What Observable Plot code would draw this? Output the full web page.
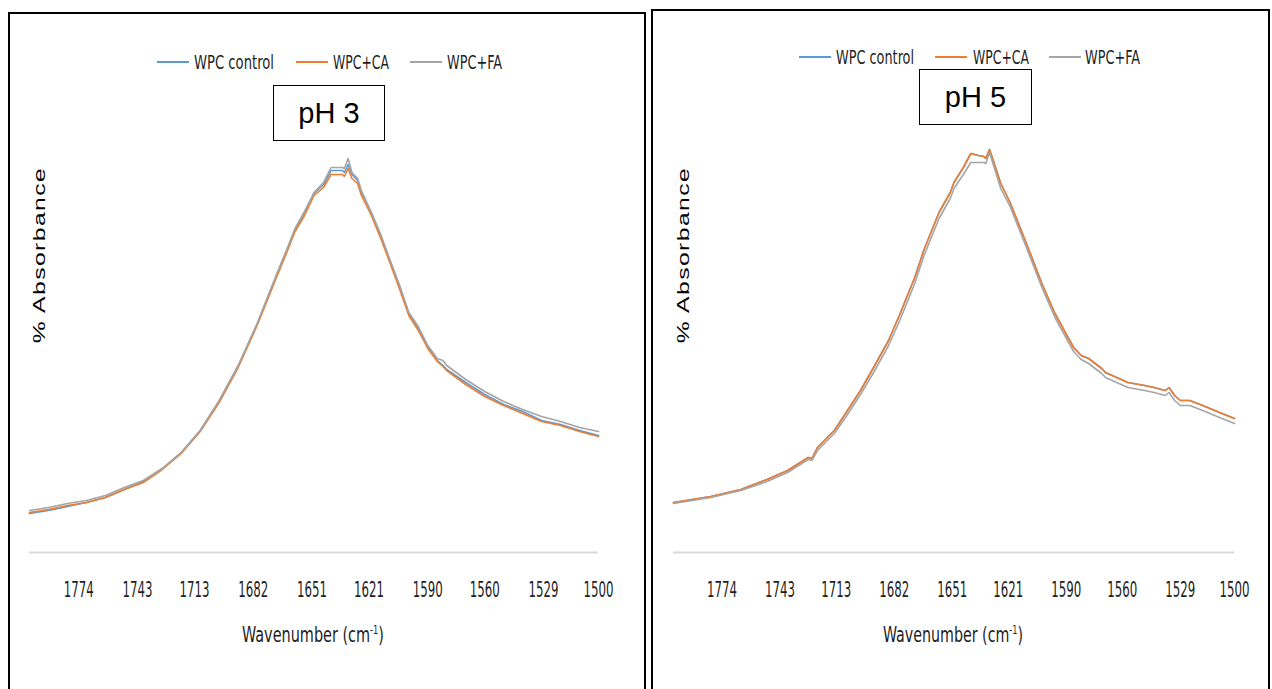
<!DOCTYPE html>
<html>
<head>
<meta charset="utf-8">
<script src="https://cdn.jsdelivr.net/npm/d3@7"></script>
<script src="https://cdn.jsdelivr.net/npm/@observablehq/plot@0.6"></script>
<style>
  body { margin: 0; background: #fff; }
  #page { position: relative; width: 1272px; height: 689px; overflow: hidden; background: #fff; }
  .panel { position: absolute; border: 2px solid #000; box-sizing: border-box; }
  .plotsvg { position: absolute; }
  .lg-line { position: absolute; height: 0; width: 32px; border-top: 2px solid; }
  .lg-text { position: absolute; font-family: "DejaVu Sans Condensed", "Liberation Sans Narrow", sans-serif; font-size: 19px; color: #1f1f1f;
             white-space: nowrap; transform-origin: 0 50%; }
  .phbox { position: absolute; border: 1.5px solid #000; box-sizing: border-box; background: #fff;
           font-family: Arial, "Liberation Sans", sans-serif; font-size: 29px; color: #000;
           display: flex; align-items: center; justify-content: center; }
  .ylab { position: absolute; font-family: Arial, "Liberation Sans", sans-serif; font-size: 17px; letter-spacing: 1px; color: #000;
          white-space: nowrap; transform: translate(-50%, -50%) rotate(-90deg) scaleX(1.45); }
  .xlab { position: absolute; font-family: "DejaVu Sans Condensed", "Liberation Sans Narrow", sans-serif; font-size: 21px; color: #1f1f1f;
          white-space: nowrap; transform-origin: 50% 50%; }
  .xlab sup { font-size: 12px; vertical-align: 8px; }
</style>
</head>
<body>
<div id="page"></div>
<script>
// Series names and colours (Excel default palette)
const seriesNames = ["WPC control", "WPC+CA", "WPC+FA"];
const seriesColors = ["#5b9bd5", "#ed7d31", "#a5a5a5"];

// Category labels shown under the wavenumber axis
const tickWavenumbers = [1774, 1743, 1713, 1682, 1651, 1621, 1590, 1560, 1529, 1500];

// pH 3 spectra (amide I region)
const wnPH3 = [1800,1790,1780,1770,1760,1750,1740,1730,1720,1710,1700,1690,1680,1670,1665,1660,1655,1650,1645,1641,1635,1634,1632,1630,1627,1625,1620,1615,1610,1605,1600,1595,1590,1585,1582,1580,1570,1560,1550,1540,1530,1520,1510,1500];
const controlPH3 = [0.039,0.042,0.046,0.050,0.055,0.063,0.071,0.084,0.100,0.122,0.151,0.186,0.228,0.276,0.299,0.323,0.340,0.359,0.368,0.382,0.382,0.380,0.388,0.378,0.372,0.360,0.341,0.318,0.292,0.266,0.239,0.224,0.205,0.192,0.187,0.183,0.170,0.158,0.148,0.141,0.132,0.128,0.122,0.117];
const caPH3 = [0.040,0.043,0.047,0.050,0.055,0.063,0.070,0.083,0.099,0.121,0.150,0.185,0.227,0.274,0.297,0.321,0.337,0.357,0.365,0.378,0.378,0.376,0.384,0.374,0.369,0.357,0.338,0.315,0.290,0.264,0.237,0.222,0.204,0.191,0.186,0.182,0.168,0.156,0.147,0.139,0.131,0.127,0.121,0.116];
const faPH3 = [0.042,0.045,0.049,0.052,0.057,0.065,0.072,0.084,0.100,0.122,0.152,0.187,0.229,0.277,0.300,0.324,0.341,0.360,0.370,0.385,0.385,0.384,0.394,0.380,0.374,0.362,0.341,0.319,0.293,0.268,0.240,0.226,0.207,0.194,0.192,0.187,0.173,0.161,0.151,0.143,0.136,0.131,0.125,0.121];

// pH 5 spectra
const wnPH5 = [1800,1780,1764,1750,1739,1728,1726,1723,1714,1708,1700,1693,1685,1679,1671,1666,1658,1652,1650,1645,1641,1637,1634,1633,1631,1629,1625,1620,1610,1603,1596,1589,1586,1582,1578,1571,1569,1557,1548,1543,1537,1535,1532,1529,1524,1517,1508,1500];
const controlPH5 = [0.050,0.056,0.063,0.073,0.082,0.095,0.094,0.105,0.122,0.139,0.162,0.185,0.212,0.238,0.275,0.303,0.340,0.360,0.370,0.385,0.399,0.397,0.396,0.394,0.403,0.392,0.369,0.350,0.303,0.269,0.239,0.215,0.205,0.197,0.194,0.184,0.180,0.170,0.167,0.165,0.162,0.165,0.157,0.152,0.152,0.147,0.140,0.134];
const caPH5 = [0.050,0.056,0.063,0.073,0.082,0.095,0.094,0.105,0.122,0.139,0.162,0.185,0.212,0.238,0.275,0.303,0.340,0.360,0.370,0.385,0.399,0.397,0.396,0.394,0.403,0.392,0.369,0.350,0.303,0.269,0.239,0.215,0.205,0.197,0.194,0.184,0.180,0.170,0.167,0.165,0.162,0.165,0.157,0.152,0.152,0.147,0.140,0.134];
const faPH5 = [0.049,0.055,0.062,0.071,0.080,0.093,0.092,0.102,0.119,0.135,0.158,0.180,0.207,0.232,0.269,0.297,0.334,0.354,0.364,0.378,0.390,0.390,0.390,0.389,0.400,0.388,0.364,0.346,0.299,0.265,0.235,0.211,0.201,0.193,0.189,0.179,0.175,0.165,0.162,0.160,0.157,0.160,0.152,0.147,0.147,0.142,0.135,0.129];

const page = document.getElementById("page");

function el(cls, style, html) {
  const d = document.createElement("div");
  d.className = cls;
  Object.assign(d.style, style);
  if (html != null) d.innerHTML = html;
  page.appendChild(d);
  return d;
}

// squeeze a text block horizontally to a given width (narrow, Calibri-like lettering)
function squeeze(node, target, prefix) {
  const w = node.getBoundingClientRect().width;
  node.style.transform = `${prefix} scaleX(${(target / w).toFixed(3)})`;
}

function drawPanel(p) {
  // panel frame
  el("panel", {left: p.box[0] + "px", top: p.box[1] + "px", width: p.box[2] + "px", height: p.box[3] + "px"});

  // spectra table built from the named arrays
  const table = [];
  p.series.forEach((vals, k) => {
    vals.forEach((v, i) => table.push({series: seriesNames[k], wn: p.wn[i], abs: v}));
  });

  const svg = Plot.plot({
    width: p.svg.width,
    height: p.svg.height,
    marginLeft: p.svg.ml,
    marginRight: p.svg.mr,
    marginTop: p.svg.mt,
    marginBottom: p.svg.mb,
    style: {background: "transparent", overflow: "visible"},
    x: {domain: [1800, 1500]},
    y: {domain: [0, 0.42], axis: null},
    color: {domain: seriesNames, range: seriesColors},
    marks: [
      Plot.ruleY([0], {stroke: "#d9d9d9", strokeWidth: 2}),
      Plot.axisX({
        ticks: tickWavenumbers, tickSize: 0, tickPadding: 30, tickFormat: d => String(d),
        fontSize: 21, fontFamily: "DejaVu Sans Condensed, Liberation Sans Narrow, sans-serif",
        fill: "#1f1f1f", label: null
      }),
      Plot.line(table, {x: "wn", y: "abs", z: "series", stroke: "series", strokeWidth: 1.6})
    ]
  });
  svg.classList.add("plotsvg");
  svg.style.left = p.svg.left + "px";
  svg.style.top = p.svg.top + "px";
  page.appendChild(svg);

  // narrow tick lettering
  svg.querySelectorAll('g[aria-label="x-axis tick label"] text').forEach(t => {
    t.setAttribute("textLength", "30");
    t.setAttribute("lengthAdjust", "spacingAndGlyphs");
  });

  // legend
  seriesNames.forEach((name, k) => {
    el("lg-line", {left: p.legend.lines[k] + "px", top: (p.legend.y - 1) + "px", borderTopColor: seriesColors[k]});
    const t = el("lg-text", {left: p.legend.texts[k] + "px", top: p.legend.y + "px"}, name);
    squeeze(t, p.legend.widths[k], "translateY(-50%)");
  });

  // pH tag
  el("phbox", {left: p.tag[0] + "px", top: p.tag[1] + "px", width: p.tag[2] + "px", height: p.tag[3] + "px"}, p.title);

  // axis titles
  el("ylab", {left: p.ylab[0] + "px", top: p.ylab[1] + "px"}, "% Absorbance");
  const xt = el("xlab", {left: p.xlab[0] + "px", top: p.xlab[1] + "px"}, "Wavenumber (cm<sup>-1</sup>)");
  squeeze(xt, p.xlab[2], "translate(-50%, -50%)");
}

drawPanel({
  title: "pH 3",
  wn: wnPH3,
  series: [controlPH3, caPH3, faPH3],
  box: [8, 12, 638, 700],
  svg: {left: 10, top: 12, width: 635, height: 677, ml: 19, mr: 47, mt: 120, mb: 137},
  legend: {y: 62, lines: [157, 296, 410], texts: [194, 333, 447], widths: [80, 56, 55]},
  tag: [273, 85, 112, 56],
  ylab: [40, 255],
  xlab: [313, 635, 142]
});

drawPanel({
  title: "pH 5",
  wn: wnPH5,
  series: [controlPH5, caPH5, faPH5],
  box: [651, 9, 619, 700],
  svg: {left: 653, top: 10, width: 615, height: 679, ml: 20, mr: 34, mt: 122, mb: 137},
  legend: {y: 57, lines: [799, 935, 1049], texts: [836, 973, 1085], widths: [78, 56, 55]},
  tag: [919, 69, 113, 56],
  ylab: [684, 255],
  xlab: [953, 635, 140]
});
</script>
</body>
</html>
